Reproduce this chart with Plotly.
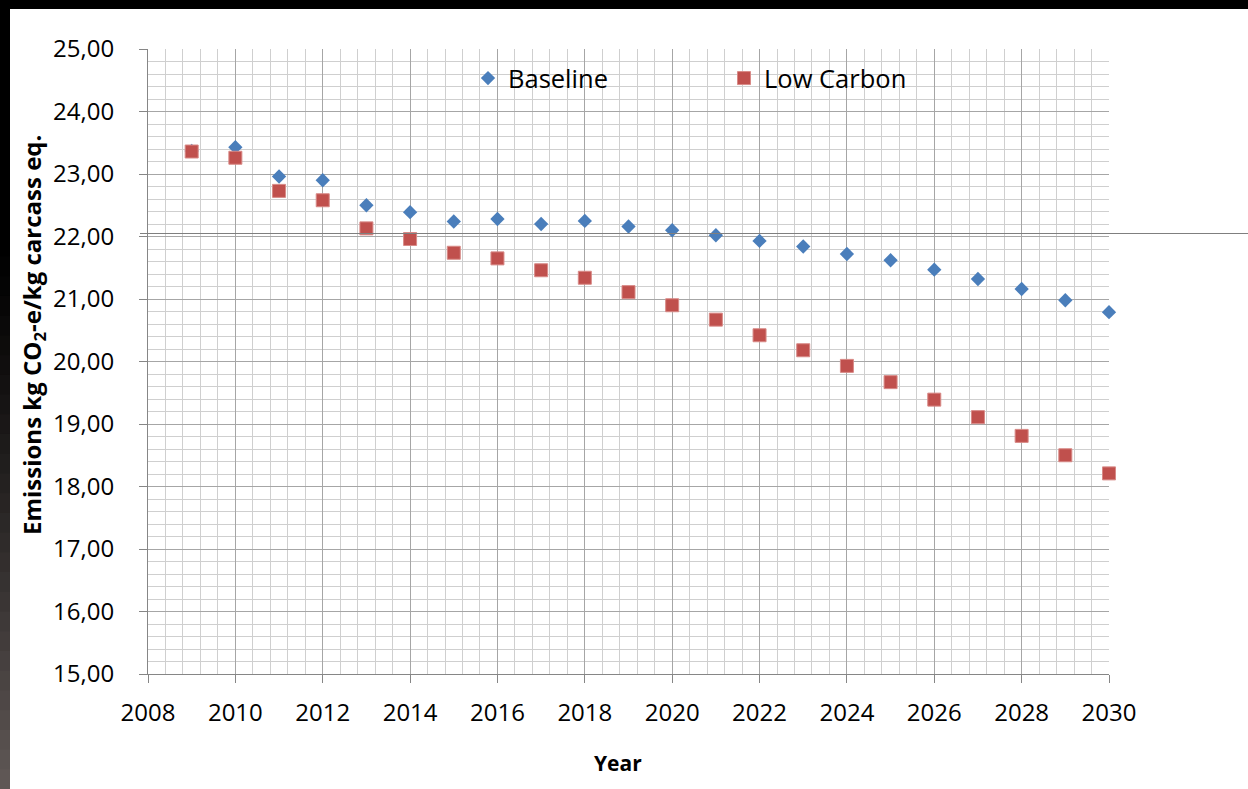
import plotly.graph_objects as go

# Emission intensity projections, kg CO2-e per kg carcass
years = list(range(2009, 2031))
baseline = [23.37, 23.43, 22.96, 22.90, 22.50, 22.39, 22.24, 22.28, 22.20, 22.25, 22.16,
            22.10, 22.02, 21.93, 21.84, 21.72, 21.62, 21.47, 21.32, 21.16, 20.98, 20.79]
low_carbon = [23.36, 23.26, 22.73, 22.58, 22.13, 21.96, 21.74, 21.65, 21.46, 21.34, 21.11,
              20.90, 20.67, 20.42, 20.18, 19.93, 19.67, 19.39, 19.11, 18.81, 18.50, 18.21]

W, H = 1248, 789
L, R, T, B = 148, 139, 49, 115
PW, PH = W - L - R, H - T - B

def px_x(p):
    return (p - L) / PW

def px_y(p):
    return (H - B - p) / PH

FONT = "Open Sans"
BLUE = "#4A7EBB"
RED = "#C0504D"

fig = go.Figure()
fig.add_trace(go.Scatter(
    x=years, y=baseline, mode="markers", name="Baseline", cliponaxis=False,
    marker=dict(symbol="diamond", size=11, color=BLUE, line=dict(width=0)),
))
fig.add_trace(go.Scatter(
    x=years, y=low_carbon, mode="markers", name="Low Carbon", cliponaxis=False,
    marker=dict(symbol="square", size=13, color=RED, line=dict(width=1, color="#d88a87")),
))

shapes = []
# dark frame along the top edge
shapes.append(dict(type="rect", xref="paper", yref="paper", layer="above",
                   x0=px_x(0), x1=px_x(W), y0=px_y(9), y1=px_y(0),
                   fillcolor="#000000", line=dict(width=0)))
# dark band on the left edge, shading from black to warm grey downwards
n = 40
step = H / n
for i in range(n):
    y_top = i * step
    y_bot = y_top + step + 2
    t = i / (n - 1)
    k = max(0.0, (t - 0.3) / 0.7) ** 1.2
    r = int(k * 95)
    g = int(k * 87)
    b = int(k * 85)
    shapes.append(dict(type="rect", xref="paper", yref="paper", layer="above",
                       x0=px_x(0), x1=px_x(10), y0=px_y(min(y_bot, H)), y1=px_y(y_top),
                       fillcolor=f"rgb({r},{g},{b})", line=dict(width=0)))
# thin horizontal rule running across the page
shapes.append(dict(type="line", xref="paper", yref="paper", layer="above",
                   x0=px_x(140), x1=px_x(W), y0=px_y(233.5), y1=px_y(233.5),
                   line=dict(color="#7f7f7f", width=1)))

annotations = [
    dict(text="<b>Emissions kg CO<sub>2</sub>-e/kg carcass eq.</b>", textangle=-90,
         xref="paper", yref="paper", x=px_x(33), y=px_y(335),
         xanchor="center", yanchor="middle", showarrow=False,
         font=dict(size=24, family=FONT, color="#000000")),
    dict(text="<b>Year</b>", xref="paper", yref="paper", x=px_x(618), y=px_y(763),
         xanchor="center", yanchor="middle", showarrow=False,
         font=dict(size=21, family=FONT, color="#000000")),
]

fig.update_layout(
    width=W, height=H,
    margin=dict(l=L, r=R, t=T, b=B),
    paper_bgcolor="white", plot_bgcolor="white",
    separators=",.",
    font=dict(family=FONT, color="#000000", size=22),
    showlegend=True,
    legend=dict(orientation="h", x=px_x(468), y=px_y(55), xanchor="left", yanchor="top",
                entrywidth=211, font=dict(size=25.5, family=FONT),
                bgcolor="rgba(0,0,0,0)"),
    shapes=shapes,
    annotations=annotations,
)

fig.update_xaxes(
    range=[2008, 2030], tick0=2008, dtick=2,
    showline=True, linecolor="#868686", linewidth=1,
    ticks="outside", ticklen=8, tickcolor="#868686",
    showgrid=True, gridcolor="#a6a6a6", gridwidth=1,
    minor=dict(tick0=2008, dtick=0.4, showgrid=True, gridcolor="#cfcfcf", gridwidth=1),
    tickfont=dict(size=24, family=FONT),
    ticklabelstandoff=9,
    zeroline=False,
)
fig.update_yaxes(
    range=[15, 25], tick0=15, dtick=1, tickformat=".2f",
    showline=True, linecolor="#868686", linewidth=1,
    ticks="outside", ticklen=8, tickcolor="#868686",
    showgrid=True, gridcolor="#a6a6a6", gridwidth=1,
    minor=dict(tick0=15, dtick=0.2, showgrid=True, gridcolor="#cfcfcf", gridwidth=1),
    tickfont=dict(size=24, family=FONT),
    ticklabelstandoff=20,
    zeroline=False,
)

fig.write_html("out.html")
